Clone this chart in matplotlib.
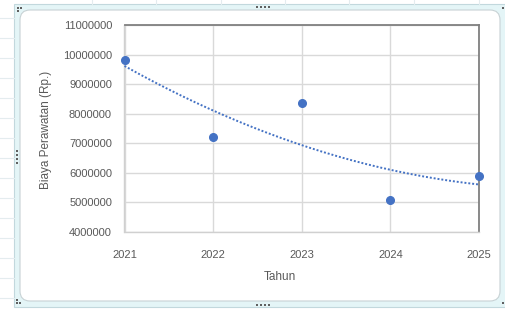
import matplotlib
matplotlib.use("Agg")
import matplotlib.pyplot as plt
import numpy as np
from matplotlib.patches import FancyBboxPatch, Rectangle

# data
tahun = [2021, 2022, 2023, 2024, 2025]
biaya = [9820000, 7220000, 8370000, 5080000, 5880000]
y_ticks = [4000000, 5000000, 6000000, 7000000, 8000000, 9000000, 10000000, 11000000]

blue = '#4472C4'
grid_c = '#d9d9d9'
text_c = '#595959'

plt.rcParams['font.family'] = ['Liberation Sans', 'DejaVu Sans']

W, H = 506, 309
fig = plt.figure(figsize=(W / 100, H / 100), dpi=100)

# ---- excel sheet / chart frame drawn in pixel coords ----
bg = fig.add_axes([0, 0, 1, 1])
bg.set_xlim(0, W)
bg.set_ylim(H, 0)
bg.axis('off')
# sheet cell lines around the chart
for yy in range(18, 300, 20):
    bg.plot([0, 14], [yy, yy], color='#e4ecef', lw=0.8)
for xx in [92, 156, 221, 285, 349, 414, 479]:
    bg.plot([xx, xx], [0, 4], color='#e4ecef', lw=0.8)
bg.add_patch(Rectangle((14, 4), 492, 303, facecolor='#e4f5f7', edgecolor='#c2d8dd', lw=0.8))
bg.add_patch(FancyBboxPatch((20, 10), 480, 291, boxstyle='round,pad=0,rounding_size=10',
                            facecolor='white', edgecolor='#c8d2d5', lw=0.8))
# resize handles
hc = '#606060'
for xx in [257, 261, 265, 269]:
    bg.add_patch(Rectangle((xx - 0.8, 6.2), 1.6, 1.6, color=hc, lw=0))
    bg.add_patch(Rectangle((xx - 0.8, 304.2), 1.6, 1.6, color=hc, lw=0))
for yy in [151, 155, 159, 163]:
    bg.add_patch(Rectangle((16.2, yy - 0.8), 1.6, 1.6, color=hc, lw=0))
for (cx, cy) in [(18, 8), (21, 8), (18, 11), (17, 300), (17, 303), (20, 303)]:
    bg.add_patch(Rectangle((cx - 0.8, cy - 0.8), 1.6, 1.6, color=hc, lw=0))
for (cx, cy) in [(503, 8), (503, 303)]:
    bg.add_patch(Rectangle((cx - 1, cy - 1), 2, 2, color=hc, lw=0))

# ---- the chart ----
ax = fig.add_axes([124.5 / W, 1 - 232 / H, (479 - 124.5) / W, (232 - 25) / H])
ax.set_xlim(2021, 2025)
ax.set_ylim(4000000, 11000000)
ax.set_yticks(y_ticks)
ax.set_yticklabels([str(v) for v in y_ticks])
ax.set_xticks(tahun)
ax.set_xticklabels([str(t) for t in tahun])
ax.grid(True, color=grid_c, lw=1.0)
ax.set_axisbelow(True)
ax.tick_params(length=0, labelsize=8, colors=text_c)
ax.tick_params(axis='y', pad=9)
ax.tick_params(axis='x', pad=13)
for s in ['left', 'bottom']:
    ax.spines[s].set_color('#d0d0d0')
    ax.spines[s].set_linewidth(1.0)
for s in ['top', 'right']:
    ax.spines[s].set_color('#808080')
    ax.spines[s].set_linewidth(1.3)

# polynomial (order 2) trendline like excel
coef = np.polyfit(np.arange(len(tahun)), biaya, 2)
xs = np.linspace(0, len(tahun) - 1, 200)
ax.plot(tahun[0] + xs, np.polyval(coef, xs), color=blue, lw=1.4, linestyle=(0, (1, 1)), zorder=3)

ax.plot(tahun, biaya, 'o', color=blue, markersize=5.5, clip_on=False, zorder=4)

fig.text(280 / W, 1 - 277 / H, 'Tahun', ha='center', va='center', fontsize=8.5, color=text_c)
fig.text(46 / W, 1 - 130 / H, 'Biaya Perawatan (Rp.)', ha='center', va='center',
         rotation=90, fontsize=8.5, color=text_c)

fig.savefig('out.png', dpi=100)
